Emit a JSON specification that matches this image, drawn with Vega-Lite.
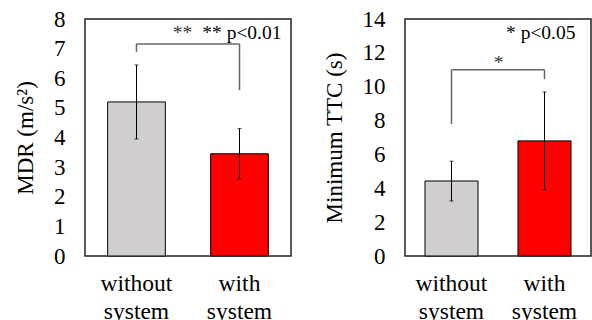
{
  "$schema": "https://vega.github.io/schema/vega-lite/v6.json",
  "padding": {"left": 13, "top": 7, "right": 0, "bottom": 0},
  "background": "white",
  "spacing": 114,
  "bounds": "flush",
  "config": {
    "view": {"stroke": "#222", "strokeWidth": 1.5},
    "font": "Liberation Serif",
    "axis": {
      "domain": false, "ticks": false, "grid": false,
      "labelFont": "Liberation Serif", "labelFontSize": 23, "labelColor": "#000",
      "titleFont": "Liberation Serif", "titleFontSize": 23, "titleFontWeight": "normal", "titleColor": "#000",
      "labelPadding": 20
    },
    "axisX": {"title": null, "labelAngle": 0, "labelLineHeight": 28, "labelPadding": 15, "labelBaseline": "top", "labelFontSize": 23.5},
    "axisY": {"titlePadding": 16, "labelOverlap": false}
  },
  "datasets": {
    "mdrBars": [
      {"cond": "without system", "v": 5.2},
      {"cond": "with system", "v": 3.45}
    ],
    "mdrErr": [
      {"cond": "without system", "v": 3.95, "v2": 6.45},
      {"cond": "with system", "v": 2.6, "v2": 4.3}
    ],
    "mdrCaps": [
      {"cond": "without system", "v": 3.95},
      {"cond": "without system", "v": 6.45},
      {"cond": "with system", "v": 2.6},
      {"cond": "with system", "v": 4.3}
    ],
    "mdrBracketV": [
      {"cond": "without system", "v": 6.89, "v2": 7.16},
      {"cond": "with system", "v": 5.6, "v2": 7.16}
    ],
    "mdrBracketH": [
      {"cond": "without system", "cond2": "with system", "v": 7.16}
    ],
    "ttcBars": [
      {"cond": "without system", "v": 4.43},
      {"cond": "with system", "v": 6.8}
    ],
    "ttcErr": [
      {"cond": "without system", "v": 3.25, "v2": 5.6},
      {"cond": "with system", "v": 3.9, "v2": 9.69}
    ],
    "ttcCaps": [
      {"cond": "without system", "v": 3.25},
      {"cond": "without system", "v": 5.6},
      {"cond": "with system", "v": 3.9},
      {"cond": "with system", "v": 9.69}
    ],
    "ttcBracketV": [
      {"cond": "without system", "v": 7.8, "v2": 11.0},
      {"cond": "with system", "v": 10.45, "v2": 11.0}
    ],
    "ttcBracketH": [
      {"cond": "without system", "cond2": "with system", "v": 11.0}
    ]
  },
  "hconcat": [
    {
      "width": 206,
      "height": 237,
      "encoding": {
        "x": {"field": "cond", "type": "nominal", "sort": ["without system", "with system"],
              "scale": {"domain": ["without system", "with system"], "paddingInner": 0.44, "paddingOuter": 0.22},
              "axis": {"labelExpr": "split(datum.label, ' ')"}},
        "y": {"field": "v", "type": "quantitative", "scale": {"domain": [0, 8], "nice": false},
              "axis": {"values": [0, 1, 2, 3, 4, 5, 6, 7, 8], "labelOverlap": false, "title": "MDR (m/s²)"}}
      },
      "layer": [
        {
          "data": {"name": "mdrBars"},
          "mark": {"type": "bar", "stroke": "#000", "strokeWidth": 1},
          "encoding": {
            "color": {"field": "cond", "type": "nominal", "scale": {"domain": ["without system", "with system"], "range": ["#d0cece", "#ff0000"]}, "legend": null}
          }
        },
        {
          "data": {"name": "mdrErr"},
          "mark": {"type": "rule", "color": "#000", "strokeWidth": 1},
          "encoding": {"y2": {"field": "v2"}}
        },
        {
          "data": {"name": "mdrCaps"},
          "mark": {"type": "tick", "color": "#000", "size": 4, "thickness": 1},
          "encoding": {}
        },
        {
          "data": {"name": "mdrBracketV"},
          "mark": {"type": "rule", "color": "#666", "strokeWidth": 1.5},
          "encoding": {"y2": {"field": "v2"}}
        },
        {
          "data": {"name": "mdrBracketH"},
          "mark": {"type": "rule", "color": "#666", "strokeWidth": 1.5},
          "encoding": {"x2": {"field": "cond2"}}
        },
        {
          "data": {"values": [{"cond": "with system", "v": 7.53, "t": "**"}]},
          "mark": {"type": "text", "fontSize": 19.5, "dx": -57, "align": "center", "baseline": "middle", "color": "#333"},
          "encoding": {"text": {"field": "t"}}
        },
        {
          "data": {"values": [{"cond": "with system", "v": 7.53, "t": "** p<0.01"}]},
          "mark": {"type": "text", "fontSize": 19.5, "dx": 42, "align": "right", "baseline": "middle", "color": "#000"},
          "encoding": {"text": {"field": "t"}}
        }
      ]
    },
    {
      "width": 186,
      "height": 237,
      "encoding": {
        "x": {"field": "cond", "type": "nominal", "sort": ["without system", "with system"],
              "scale": {"domain": ["without system", "with system"], "paddingInner": 0.43, "paddingOuter": 0.215},
              "axis": {"labelExpr": "split(datum.label, ' ')"}},
        "y": {"field": "v", "type": "quantitative", "scale": {"domain": [0, 14], "nice": false},
              "axis": {"values": [0, 2, 4, 6, 8, 10, 12, 14], "labelOverlap": false, "title": "Minimum TTC (s)"}}
      },
      "layer": [
        {
          "data": {"name": "ttcBars"},
          "mark": {"type": "bar", "stroke": "#000", "strokeWidth": 1},
          "encoding": {
            "color": {"field": "cond", "type": "nominal", "scale": {"domain": ["without system", "with system"], "range": ["#d0cece", "#ff0000"]}, "legend": null}
          }
        },
        {
          "data": {"name": "ttcErr"},
          "mark": {"type": "rule", "color": "#000", "strokeWidth": 1},
          "encoding": {"y2": {"field": "v2"}}
        },
        {
          "data": {"name": "ttcCaps"},
          "mark": {"type": "tick", "color": "#000", "size": 4, "thickness": 1},
          "encoding": {}
        },
        {
          "data": {"name": "ttcBracketV"},
          "mark": {"type": "rule", "color": "#666", "strokeWidth": 1.5},
          "encoding": {"y2": {"field": "v2"}}
        },
        {
          "data": {"name": "ttcBracketH"},
          "mark": {"type": "rule", "color": "#666", "strokeWidth": 1.5},
          "encoding": {"x2": {"field": "cond2"}}
        },
        {
          "data": {"values": [{"cond": "without system", "v": 11.4, "t": "*"}]},
          "mark": {"type": "text", "fontSize": 19.5, "dx": 47, "align": "center", "baseline": "middle", "color": "#333"},
          "encoding": {"text": {"field": "t"}}
        },
        {
          "data": {"values": [{"cond": "with system", "v": 13.2, "t": "* p<0.05"}]},
          "mark": {"type": "text", "fontSize": 19.5, "dx": 31, "align": "right", "baseline": "middle", "color": "#000"},
          "encoding": {"text": {"field": "t"}}
        }
      ]
    }
  ]
}
